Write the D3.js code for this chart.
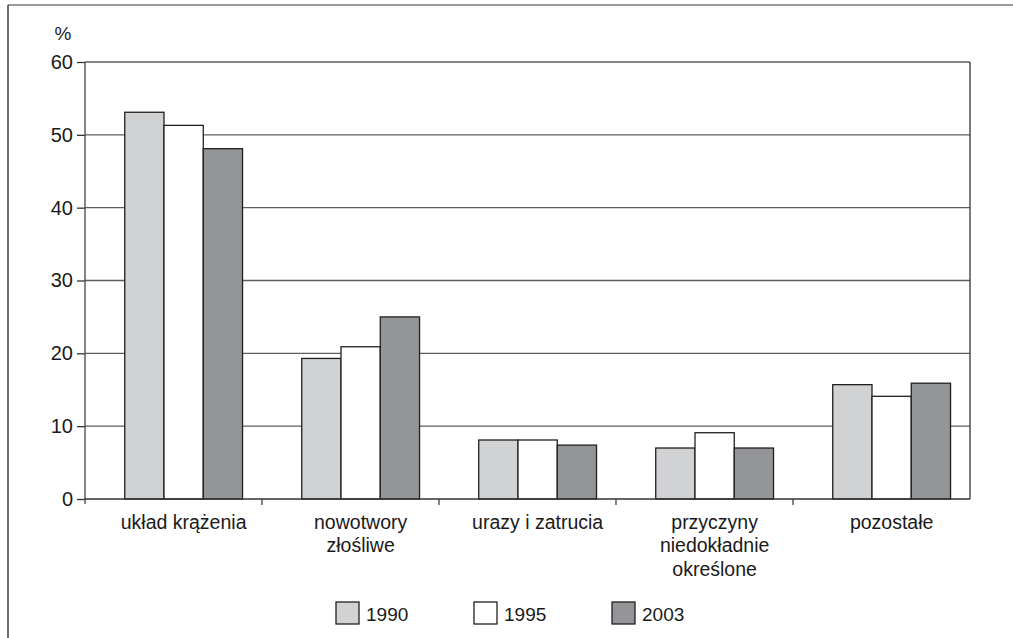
<!DOCTYPE html>
<html>
<head>
<meta charset="utf-8">
<script src="https://cdn.jsdelivr.net/npm/d3@7"></script>
<style>
  html, body { margin: 0; padding: 0; background: #fff; }
  svg { display: block; font-family: "Liberation Sans", Arial, sans-serif; }
</style>
</head>
<body>
<svg id="chart" width="1013" height="638"></svg>
<script>
// Causes of death in Poland, share of all deaths (%)
const categories = [
  ["układ krążenia"],
  ["nowotwory", "złośliwe"],
  ["urazy i zatrucia"],
  ["przyczyny", "niedokładnie", "określone"],
  ["pozostałe"]
];
const years = ["1990", "1995", "2003"];
const values1990 = [53.1, 19.3, 8.1, 7.0, 15.7];
const values1995 = [51.3, 20.9, 8.1, 9.1, 14.1];
const values2003 = [48.1, 25.0, 7.4, 7.0, 15.9];
const yTicks = [0, 10, 20, 30, 40, 50, 60];
const fills = ["#d1d2d4", "#ffffff", "#939598"];

const series = [values1990, values1995, values2003];
const catKeys = categories.map(c => c.join(" "));
const textColor = "#1a1a1a";

const svg = d3.select("#chart");
const plot = { left: 85, right: 970, top: 62, bottom: 499 };

const x = d3.scaleBand().domain(catKeys).range([plot.left, plot.right]);
const bw = x.bandwidth();
const xInner = d3.scaleBand().domain(years).range([bw * 0.2245, bw * 0.89]);
const y = d3.scaleLinear().domain([0, 60]).range([plot.bottom, plot.top]);

// outer frame
svg.append("line").attr("x1", 8).attr("x2", 1013).attr("y1", 5).attr("y2", 5)
  .attr("stroke", "#7a7a7a").attr("stroke-width", 1.5);
svg.append("line").attr("x1", 8).attr("x2", 8).attr("y1", 5).attr("y2", 638)
  .attr("stroke", "#222").attr("stroke-width", 1.3);

// gridlines
svg.append("g").selectAll("line").data(yTicks.filter(d => d > 0)).join("line")
  .attr("x1", plot.left).attr("x2", plot.right)
  .attr("y1", d => y(d)).attr("y2", d => y(d))
  .attr("stroke", "#5e5e5e").attr("stroke-width", 1.4);

// right border of plot area
svg.append("line").attr("x1", plot.right).attr("x2", plot.right)
  .attr("y1", plot.top).attr("y2", plot.bottom)
  .attr("stroke", "#333").attr("stroke-width", 1.3);

// y axis
const yAxis = d3.axisLeft(y).tickValues(yTicks).tickSize(8).tickPadding(4);
const gy = svg.append("g").attr("transform", `translate(${plot.left},0)`).call(yAxis);
gy.select(".domain").remove();
gy.selectAll(".tick line").attr("stroke", "#333").attr("stroke-width", 1.3);
gy.selectAll(".tick text").attr("font-size", 20).attr("fill", textColor)
  .attr("font-family", "'Liberation Sans', Arial, sans-serif");
svg.append("line").attr("x1", plot.left).attr("x2", plot.left)
  .attr("y1", plot.top).attr("y2", plot.bottom + 5)
  .attr("stroke", "#444").attr("stroke-width", 1.3);

svg.append("text").attr("x", 63).attr("y", 40).attr("text-anchor", "middle")
  .attr("font-size", 19).attr("fill", textColor).text("%");

// bars
const groups = svg.append("g").selectAll("g").data(catKeys).join("g")
  .attr("transform", d => `translate(${x(d)},0)`);
groups.selectAll("rect")
  .data((d, i) => years.map((yr, s) => ({ yr, s, v: series[s][i] })))
  .join("rect")
  .attr("x", d => xInner(d.yr))
  .attr("width", xInner.bandwidth())
  .attr("y", d => y(d.v))
  .attr("height", d => y(0) - y(d.v))
  .attr("fill", d => fills[d.s])
  .attr("stroke", "#231f20").attr("stroke-width", 1.3);

// x axis baseline and ticks between categories
svg.append("line").attr("x1", plot.left).attr("x2", plot.right)
  .attr("y1", y(0)).attr("y2", y(0))
  .attr("stroke", "#333").attr("stroke-width", 1.3);
svg.append("g").selectAll("line").data(catKeys.slice(1)).join("line")
  .attr("x1", d => x(d)).attr("x2", d => x(d))
  .attr("y1", y(0)).attr("y2", y(0) + 6)
  .attr("stroke", "#333").attr("stroke-width", 1.2);

// category labels, centred under each bar group
const groupCenter = d => x(d) + (xInner.range()[0] + xInner.range()[1]) / 2;
svg.append("g").selectAll("text").data(categories).join("text")
  .attr("x", (d, i) => groupCenter(catKeys[i]))
  .attr("y", 528.5)
  .attr("text-anchor", "middle")
  .attr("font-size", 19.5).attr("fill", textColor)
  .each(function (lines) {
    const t = d3.select(this);
    const cx = t.attr("x");
    lines.forEach((ln, k) => {
      t.append("tspan").attr("x", cx).attr("dy", k === 0 ? 0 : 23.5).text(ln);
    });
  });

// legend
const legendX = [336, 474, 612];
const leg = svg.append("g").selectAll("g").data(years).join("g")
  .attr("transform", (d, i) => `translate(${legendX[i]},602)`);
leg.append("rect").attr("width", 23).attr("height", 22)
  .attr("fill", (d, i) => fills[i]).attr("stroke", "#231f20").attr("stroke-width", 1.3);
leg.append("text").attr("x", 30).attr("y", 18.5)
  .attr("font-size", 19).attr("fill", textColor).text(d => d);
</script>
</body>
</html>
